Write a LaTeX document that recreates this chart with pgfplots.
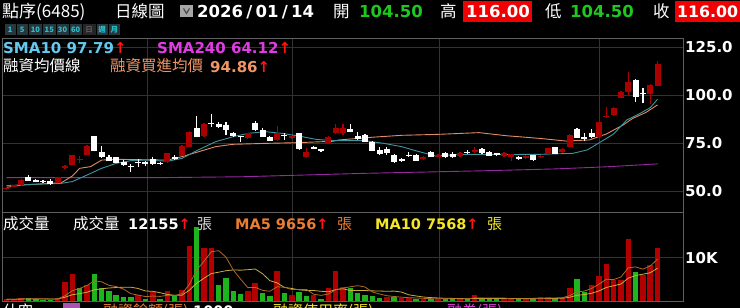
\documentclass[border=0pt]{standalone}
\usepackage{pgfplots}
\pgfplotsset{compat=1.18}
\usepackage{pgfplotstable}
\usepackage{fontspec}
\usepackage{graphicx}
\setmainfont{DejaVu Sans}
\newfontfamily\cjk{Noto Sans CJK TC}
\newcommand\fs[1]{\fontsize{#1}{#1}\selectfont}
\definecolor{candred}{RGB}{170,0,0}
\definecolor{volred}{RGB}{178,0,0}
\definecolor{volgreen}{RGB}{30,180,30}
\definecolor{gridc}{RGB}{50,50,50}
\definecolor{framec}{RGB}{95,95,95}
\definecolor{smaten}{RGB}{60,150,160}
\definecolor{smatenlbl}{RGB}{100,200,240}
\definecolor{smalong}{RGB}{150,40,160}
\definecolor{smalonglbl}{RGB}{225,60,225}
\definecolor{margin}{RGB}{225,140,100}
\definecolor{marginlbl}{RGB}{240,150,100}
\definecolor{hdgreen}{RGB}{30,200,30}
\definecolor{hdred}{RGB}{240,0,0}
\definecolor{arrowred}{RGB}{255,20,20}
\definecolor{btnfill}{RGB}{38,55,62}
\definecolor{btntext}{RGB}{40,195,205}
\definecolor{maf}{RGB}{235,125,50}
\definecolor{maten}{RGB}{245,230,40}
\definecolor{volmaf}{RGB}{175,105,40}
\definecolor{volmaten}{RGB}{200,175,60}
\newcommand\up{{\color{arrowred}\bfseries ↑}}

\pgfplotstableread{
i o h l c
0 51.0 52.1 50.6 51.8
1 52.3 53.2 52.0 52.9
2 53.1 56.0 52.8 55.7
7 54.3 57.5 54.0 57.1
8 61.8 63.3 61.3 62.8
9 63.8 69.0 63.5 68.5
10 66.2 68.3 64.8 66.7
11 68.8 73.8 68.5 73.4
22 65.0 70.0 64.6 69.6
24 68.2 73.8 68.0 73.4
25 73.1 81.0 72.8 80.6
27 78.5 85.6 78.2 84.9
33 77.4 80.4 77.0 80.0
37 76.6 83.9 76.3 80.0
39 77.4 79.5 77.0 78.8
41 67.5 72.2 67.2 70.5
44 75.0 78.7 74.7 78.3
45 80.0 85.0 79.7 82.8
46 80.0 84.9 79.2 83.0
57 66.5 68.2 66.2 67.9
59 67.9 69.5 67.6 68.8
62 68.2 70.4 67.9 70.0
64 70.5 72.8 69.6 71.6
68 68.2 70.3 67.9 70.0
69 67.9 69.4 65.6 69.1
71 67.0 68.5 66.7 68.2
73 67.5 68.5 67.2 68.2
74 69.1 72.5 68.8 72.2
76 70.1 72.2 69.8 71.9
77 73.1 79.5 72.8 79.2
81 78.3 86.1 78.0 85.8
82 88.7 93.9 88.2 89.2
83 89.6 94.0 89.3 93.1
84 98.6 102.0 98.3 101.7
85 101.4 111.8 100.0 106.9
88 100.3 105.5 95.1 105.2
89 104.5 117.8 104.5 116.0
}\redk

\pgfplotstableread{
i o h l c
3 57.1 58.3 55.1 55.4
4 55.7 56.0 54.6 54.9
5 55.4 55.7 54.4 54.7
6 55.2 56.1 53.3 53.6
12 78.6 78.9 70.7 71.0
13 70.5 73.4 67.2 67.5
14 67.9 68.8 65.5 65.8
15 67.5 67.8 64.5 64.8
16 65.1 66.1 63.2 63.5
17 63.0 63.9 60.1 62.3
18 65.1 66.5 62.7 64.4
19 65.3 65.6 63.0 63.9
20 66.8 67.9 63.8 64.1
21 64.4 65.0 63.3 64.0
23 67.9 68.8 66.2 66.5
26 83.0 88.9 78.0 78.3
28 85.6 90.2 83.5 84.9
29 84.9 86.1 82.6 83.5
30 84.4 86.1 79.2 81.8
31 80.4 80.7 78.3 78.6
32 78.6 78.9 75.7 78.0
34 85.2 86.6 81.5 81.8
35 82.0 82.6 78.0 78.3
36 78.3 78.6 75.9 76.2
38 79.3 80.0 76.6 78.6
40 80.0 80.3 71.4 71.8
42 73.1 73.4 71.7 72.0
43 71.7 72.0 70.5 71.0
47 82.3 84.7 80.6 80.9
48 78.6 80.5 76.6 76.9
49 79.2 79.5 75.4 75.7
50 75.5 75.8 70.7 71.0
51 71.2 72.7 69.0 69.5
52 72.1 73.1 68.8 69.8
53 68.8 69.1 64.4 65.3
54 66.7 67.0 65.3 65.8
55 68.9 70.5 67.9 68.4
56 69.0 69.3 65.5 65.8
58 70.3 71.0 67.6 67.9
60 69.6 70.5 67.3 67.9
61 69.3 70.4 67.4 67.7
63 70.5 71.2 69.3 69.6
65 72.0 72.5 69.3 69.6
66 70.5 70.8 68.0 68.4
67 69.6 70.0 68.3 68.8
70 67.9 68.2 66.4 66.7
72 68.7 69.0 65.8 66.1
75 72.7 73.0 69.1 69.4
78 82.3 83.0 77.5 77.8
79 78.3 80.0 75.8 77.1
80 80.0 82.3 77.8 78.1
86 107.8 108.1 96.5 99.1
87 100.9 103.8 95.7 100.3
}\whitek

\pgfplotsset{
  panel/.style={
    scale only axis, anchor=south west,
    xmin=-0.615, xmax=92.48,
    axis line style={draw=framec, line width=0.8pt},
    major tick length=0pt,
    xtick={19.21,39.03,59.13,81.0}, xticklabels={},
    xmajorgrids, ymajorgrids,
    grid style={draw=gridc, line width=0.8pt},
    yticklabel pos=right,
    yticklabel style={text=white, font=\bfseries\fs{15}, anchor=west, inner sep=0pt, xshift=2pt},
  },
}

\begin{document}
\begin{tikzpicture}[x=1pt,y=1pt]
\useasboundingbox (0,0) rectangle (740,308);
\clip (0,0) rectangle (740,308);
\fill[black] (0,0) rectangle (740,308);

% ---------- price panel ----------
\begin{axis}[panel, at={(2pt,96pt)}, width=681pt, height=174pt,
  ymin=39.06, ymax=129.69,
  ytick={50,75,100,125}, yticklabels={50.0,75.0,100.0,125.0}]
\addplot[smalong, line width=0.9pt] coordinates {(0,57.0) (22,57.0) (32,57.4) (49,59.2) (66,60.6) (75,61.5) (82,62.6) (89,64.12)};
\addplot[margin, line width=0.9pt] coordinates {(0,51.9) (2,53.1) (7.5,54.3) (9,57.8) (10,61.8) (11.5,62.7) (13,66.1) (15,66.5) (22,66.1) (24,67.9) (26.3,70.5) (28.6,73.1) (30.9,74.3) (35.4,74.8) (40,75.2) (44.6,75.9) (45.5,76.6) (50,78.0) (54,79.0) (59,79.5) (64.6,80.4) (68.3,78.8) (72.9,77.4) (76.5,76.0) (79.7,76.6) (82,79.7) (84.3,84.4) (85.6,87.8) (87.4,90.9) (89,94.86)};
\addplot[smaten, line width=0.9pt] coordinates {(0,52.8) (4,53.5) (7.5,54.0) (9,54.9) (11,58.3) (13,61.8) (15,64.4) (17,65.8) (19,66.1) (22,65.5) (24,67.0) (26,71.0) (28.6,75.7) (31,78.3) (33,80.0) (35.4,80.9) (37.7,80.0) (40,78.6) (42.3,76.9) (44.6,76.2) (49,76.2) (51.6,74.8) (54,73.1) (56.4,70.5) (58.7,68.2) (61,68.8) (63.3,69.1) (65.6,69.1) (68.3,69.0) (72.9,69.1) (77.4,69.6) (79.4,71.4) (81.1,75.3) (83,79.7) (84.8,87.0) (86.6,90.4) (88,93.4) (89,97.79)};
% wicks (low -> high)
\addplot[candred, line width=1.2pt, mark=none, quiver={u=0, v={\thisrow{h}-\thisrow{l}}}]
  table[x=i, y=l]{\redk};
\addplot[white, line width=1.2pt, mark=none, quiver={u=0, v={\thisrow{h}-\thisrow{l}}}]
  table[x=i, y=l]{\whitek};
% bodies (min(open,close) -> max(open,close))
\addplot[candred, line width=6pt, mark=none, quiver={u=0, v={max(abs(\thisrow{c}-\thisrow{o}),0.6)}}]
  table[x=i, y expr={min(\thisrow{o},\thisrow{c})}]{\redk};
\addplot[white, line width=6pt, mark=none, quiver={u=0, v={max(abs(\thisrow{c}-\thisrow{o}),0.6)}}]
  table[x=i, y expr={min(\thisrow{o},\thisrow{c})}]{\whitek};
\end{axis}

% ---------- volume panel ----------
\begin{axis}[panel, at={(2pt,7pt)}, width=681pt, height=89pt,
  ymin=0, ymax=20.55,
  ytick={10}, yticklabels={10K}]
\addplot[ycomb, volred, line width=5.5pt] coordinates {
(0,0.4) (1,0.4) (2,0.8) (7,0.8) (8,4.3) (9,6.2) (11,3.7) (18,1.4) (20,2.0) (22,2.2) (24,2.5) (25,12.8) (27,12.2) (28,12.2) (33,2.3) (34,4.1) (37,6.9) (39,1.4) (42,1.4) (44,2.9) (45,6.9) (46,3.2) (52,0.9) (54,0.6) (55,0.6) (57,0.5) (59,0.5) (62,0.5) (64,1.5) (68,0.5) (69,0.5) (71,0.5) (73,0.9) (74,0.9) (76,0.8) (77,2.9) (80,3.7) (81,5.8) (82,8.5) (83,4.8) (84,4.9) (85,14.3) (87,6.0) (88,8.4) (89,12.155)};
\addplot[ycomb, volgreen, line width=5.5pt] coordinates {
(3,0.6) (4,0.4) (5,0.3) (6,0.3) (10,2.9) (12,6.2) (13,3.1) (14,2.2) (15,1.4) (16,0.9) (17,0.9) (19,0.5) (21,0.5) (23,1.2) (26,17.2) (29,3.7) (30,5.4) (31,2.3) (32,1.7) (35,1.9) (36,1.2) (38,1.8) (40,2.0) (41,1.2) (43,0.5) (47,2.9) (48,1.8) (49,1.4) (50,1.2) (51,0.8) (53,0.9) (56,0.5) (58,0.5) (60,0.5) (61,0.5) (63,0.5) (65,0.5) (66,0.5) (67,0.5) (70,0.5) (72,0.5) (75,0.7) (78,5.1) (79,2.0) (86,6.8)};
\addplot[volmaten, line width=0.8pt] coordinates {
(0,0.40) (1,0.40) (2,0.44) (3,0.46) (4,0.46) (5,0.45) (6,0.44) (7,0.48) (8,0.87) (9,1.45) (10,1.70) (11,2.03) (12,2.57) (13,2.82) (14,3.00) (15,3.11) (16,3.17) (17,3.18) (18,2.89) (19,2.32) (20,2.23) (21,1.91) (22,1.51) (23,1.32) (24,1.35) (25,2.49) (26,4.12) (27,5.25) (28,6.33) (29,6.65) (30,6.99) (31,7.17) (32,7.12) (33,7.23) (34,7.39) (35,6.30) (36,4.70) (37,4.17) (38,3.13) (39,2.90) (40,2.56) (41,2.45) (42,2.42) (43,2.24) (44,2.12) (45,2.62) (46,2.82) (47,2.42) (48,2.42) (49,2.42) (50,2.34) (51,2.30) (52,2.25) (53,2.29) (54,2.06) (55,1.43) (56,1.16) (57,0.92) (58,0.79) (59,0.70) (60,0.63) (61,0.60) (62,0.56) (63,0.52) (64,0.61) (65,0.60) (66,0.60) (67,0.60) (68,0.60) (69,0.60) (70,0.60) (71,0.60) (72,0.60) (73,0.64) (74,0.58) (75,0.60) (76,0.63) (77,0.87) (78,1.33) (79,1.48) (80,1.80) (81,2.33) (82,3.13) (83,3.52) (84,3.92) (85,5.28) (86,5.88) (87,6.19) (88,6.52) (89,7.57)};
\addplot[volmaf, line width=0.8pt] coordinates {
(0,0.40) (1,0.40) (2,0.48) (3,0.52) (4,0.52) (5,0.50) (6,0.48) (7,0.48) (8,1.22) (9,2.38) (10,2.90) (11,3.58) (12,4.66) (13,4.42) (14,3.62) (15,3.32) (16,2.76) (17,1.70) (18,1.36) (19,1.02) (20,1.14) (21,1.06) (22,1.32) (23,1.28) (24,1.68) (25,3.84) (26,7.18) (27,9.18) (28,11.38) (29,11.62) (30,10.14) (31,7.16) (32,5.06) (33,3.08) (34,3.16) (35,2.46) (36,2.24) (37,3.28) (38,3.18) (39,2.64) (40,2.66) (41,2.66) (42,1.56) (43,1.30) (44,1.60) (45,2.58) (46,2.98) (47,3.28) (48,3.54) (49,3.24) (50,2.10) (51,1.62) (52,1.22) (53,1.04) (54,0.88) (55,0.76) (56,0.70) (57,0.62) (58,0.54) (59,0.52) (60,0.50) (61,0.50) (62,0.50) (63,0.50) (64,0.70) (65,0.70) (66,0.70) (67,0.70) (68,0.70) (69,0.50) (70,0.50) (71,0.50) (72,0.50) (73,0.58) (74,0.66) (75,0.70) (76,0.76) (77,1.24) (78,2.08) (79,2.30) (80,2.90) (81,3.90) (82,5.02) (83,4.96) (84,5.54) (85,7.66) (86,7.86) (87,7.36) (88,8.08) (89,9.66)};
\end{axis}

% ---------- header ----------
\begin{scope}[every node/.style={anchor=base west, inner sep=0pt}]
\node[text=white, font=\cjk\fs{17}] at (2,290.7) {點序(6485)};
\node[text=white, font=\cjk\fs{16.5}] at (115,290.7) {日線圖};
\fill[gray!70] (180,290.5) rectangle (193,303);
\draw[black!70, line width=1.2pt] (183.5,299.5) -- (186.5,294.5) -- (189.5,299.5);
\node[text=white, font=\bfseries\fs{16.5}] at (197,290.7) {2026\makebox[12.5pt]{/}01\makebox[12.5pt]{/}14};
\node[text=white, font=\cjk\fs{16.5}] at (333,290.7) {開};
\node[text=hdgreen, font=\bfseries\fs{16.5}] at (359,290.7) {104.50};
\node[text=white, font=\cjk\fs{16.5}] at (440,290.7) {高};
\fill[hdred] (463,286.3) rectangle (532,307.3);
\node[text=white, font=\bfseries\fs{16.5}] at (466,290.7) {116.00};
\node[text=white, font=\cjk\fs{16.5}] at (545,290.7) {低};
\node[text=hdgreen, font=\bfseries\fs{16.5}] at (570,290.7) {104.50};
\node[text=white, font=\cjk\fs{16.5}] at (653,290.7) {收};
\fill[hdred] (675,286.3) rectangle (740,307.3);
\node[text=white, font=\bfseries\fs{15.8}] at (677,290.7) {116.00};
% buttons
\foreach \xa/\xb/\t in {5/15.5/1, 16.5/28/5, 29/42/10, 43/55.5/15, 56.5/68.5/30, 69.5/82/60, 96.5/107.5/週, 108.5/120/月}{
  \fill[btnfill] (\xa,273) rectangle (\xb,283.5);
  \node[anchor=center, text=btntext, font=\cjk\bfseries\fs{7.5}] at ({(\xa+\xb)/2},278.2) {\t};
}
\fill[black!85!white] (83,273) rectangle (95.5,283.5);
\node[anchor=center, text=gray, font=\cjk\fs{7.5}] at (89.2,278.2) {日};

% price labels
\node[text=smatenlbl, font=\bfseries\fs{15}] at (3,254.7) {SMA10 97.79\up};
\node[text=smalonglbl, font=\bfseries\fs{15}] at (157,254.7) {SMA240 64.12\up};
\node[text=white, font=\cjk\fs{15.5}] at (3,236.3) {融資均價線};
\node[text=marginlbl, font=\cjk\fs{15.5}] at (110,236.3) {融資買進均價};
\node[text=marginlbl, font=\bfseries\fs{15}] at (210,235.5) {94.86\up};

% volume labels
\node[text=white, font=\cjk\fs{15.5}] at (3,78.5) {成交量};
\node[text=white, font=\cjk\fs{15.5}] at (73,78.5) {成交量};
\node[text=white, font=\bfseries\fs{14.5}] at (128,78) {12155\up};
\node[text=white!85!black, font=\cjk\fs{15}] at (197,78.5) {張};
\node[text=maf, font=\bfseries\fs{14.5}] at (235,78) {MA5 9656\up};
\node[text=maf, font=\cjk\fs{15}] at (337,78.5) {張};
\node[text=maten, font=\bfseries\fs{14.5}] at (375,78) {MA10 7568\up};
\node[text=maten, font=\cjk\fs{15}] at (487,78.5) {張};

% cut-off bottom row (only the tops show, as in the reference)
\node[text=white, font=\cjk\fs{15}] at (3,-9) {什空};
\fill[smalong!80!white] (63,0) rectangle (80,5);
\node[text=maf, font=\cjk\fs{15}] at (103,-9) {融資餘額(張)};
\node[text=white, font=\bfseries\fs{14.5}] at (193,-9) {1000};
\node[text=maten, font=\cjk\fs{15}] at (273,-9) {融資使用率(張)};
\node[text=smalonglbl, font=\cjk\fs{15}] at (447,-9) {融券(張)};
\end{scope}
\end{tikzpicture}
\end{document}
